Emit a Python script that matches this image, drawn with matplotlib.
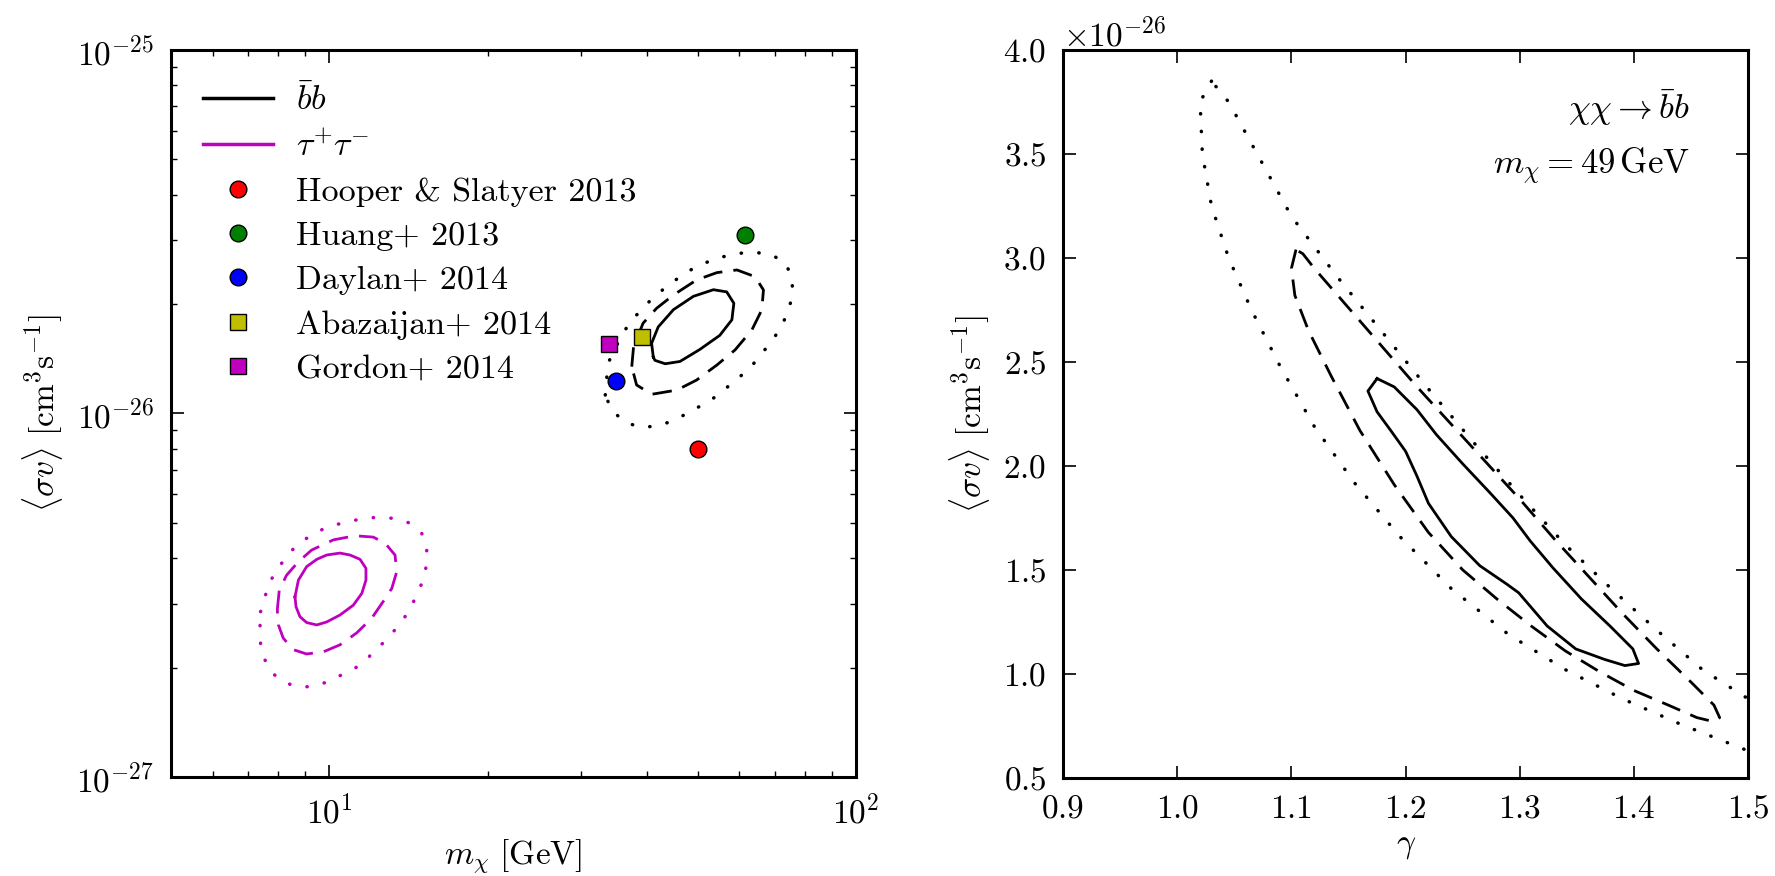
import numpy as np
import matplotlib
matplotlib.use("Agg")
import matplotlib.pyplot as plt
from matplotlib.ticker import NullFormatter, LogLocator

plt.rcParams['font.family'] = 'serif'
plt.rcParams['font.serif'] = ['cmr10', 'DejaVu Serif']
plt.rcParams['mathtext.fontset'] = 'cm'
plt.rcParams['axes.formatter.use_mathtext'] = True
plt.rcParams['font.size'] = 24

# ---- left panel: contours in (m_chi [GeV], <sigma v> [1e-26 cm^3/s]) ----
bb_solid_m = [41.2, 40.9, 42.1, 45.0, 49.1, 53.6, 56.8, 58.6, 58.1, 55.1, 50.5, 46.3, 43.4, 41.5]
bb_solid_s = [1.43, 1.56, 1.73, 1.93, 2.10, 2.19, 2.16, 2.01, 1.81, 1.64, 1.50, 1.39, 1.37, 1.40]

bb_dash_m = [37.5, 37.8, 39.4, 41.8, 45.0, 49.8, 54.4, 59.4, 64.3, 66.7, 66.2, 63.4, 58.9, 54.4,
             49.8, 45.7, 40.9, 38.3]
bb_dash_s = [1.345, 1.527, 1.771, 1.947, 2.118, 2.330, 2.440, 2.482, 2.378, 2.186, 1.926, 1.697,
             1.495, 1.359, 1.236, 1.160, 1.129, 1.198]

bb_dot_m = [33.4, 33.8, 35.9, 37.5, 39.4, 41.2, 43.7, 46.3, 49.1, 52.4, 56.0, 60.2, 64.3, 69.2,
            73.3, 75.5, 75.8, 74.6, 72.5, 69.8, 66.9, 63.8, 60.7, 57.6, 54.4, 51.3, 48.2, 45.3,
            42.3, 39.4, 36.7, 34.4]
bb_dot_s = [1.124, 1.374, 1.644, 1.808, 1.947, 2.088, 2.233, 2.378, 2.508, 2.616, 2.700, 2.759,
            2.776, 2.729, 2.600, 2.378, 2.141, 1.942, 1.760, 1.610, 1.489, 1.368, 1.276, 1.198,
            1.117, 1.060, 1.008, 0.960, 0.926, 0.916, 0.940, 1.016]

tau_solid_m = [8.60, 8.73, 9.05, 9.46, 9.88, 10.47, 10.94, 11.43, 11.73, 11.73, 11.52, 11.10,
               10.47, 9.88, 9.46, 9.05, 8.79, 8.64]
tau_solid_s = [0.313, 0.348, 0.379, 0.397, 0.408, 0.413, 0.408, 0.397, 0.375, 0.348, 0.320,
               0.297, 0.279, 0.267, 0.262, 0.266, 0.276, 0.294]

tau_dash_m = [7.96, 8.03, 8.29, 8.73, 9.25, 10.17, 11.18, 12.11, 12.75, 13.32, 13.42, 13.13,
              12.65, 12.02, 11.26, 10.47, 9.74, 9.05, 8.54, 8.17, 8.00]
tau_dash_s = [0.288, 0.327, 0.359, 0.391, 0.421, 0.449, 0.461, 0.457, 0.440, 0.408, 0.367,
              0.330, 0.304, 0.273, 0.249, 0.231, 0.221, 0.218, 0.224, 0.241, 0.262]

tau_dot_m = [7.40, 7.54, 7.73, 8.03, 8.35, 8.79, 9.35, 9.95, 10.66, 11.43, 12.25, 13.18, 14.11,
             14.97, 15.30, 15.30, 15.07, 14.64, 14.22, 13.67, 13.07, 12.43, 11.80, 11.18, 10.47,
             9.84, 9.18, 8.54, 8.03, 7.80, 7.54, 7.40, 7.38]
tau_dot_s = [0.285, 0.313, 0.347, 0.379, 0.411, 0.441, 0.468, 0.488, 0.501, 0.512, 0.518, 0.515,
             0.501, 0.468, 0.426, 0.386, 0.348, 0.317, 0.289, 0.266, 0.246, 0.228, 0.212, 0.199,
             0.190, 0.182, 0.177, 0.178, 0.186, 0.193, 0.210, 0.232, 0.257]

# literature points
ref_names = ['Hooper & Slatyer 2013', 'Huang+ 2013', 'Daylan+ 2014', 'Abazaijan+ 2014', 'Gordon+ 2014']
ref_m = [50.0, 61.6, 35.0, 39.3, 34.0]
ref_s = [0.80, 3.10, 1.23, 1.62, 1.55]
ref_marker = ['o', 'o', 'o', 's', 's']
ref_color = ['r', 'g', 'b', 'y', 'm']

# ---- right panel: contours in (gamma, <sigma v> [1e-26]) for m = 49 GeV ----
r_solid_g = [1.175, 1.190, 1.210, 1.227, 1.250, 1.274, 1.294, 1.309, 1.329, 1.354, 1.379, 1.399,
             1.404, 1.392, 1.374, 1.349, 1.324, 1.299, 1.289, 1.265, 1.240, 1.220, 1.210, 1.200,
             1.187, 1.175, 1.167]
r_solid_s = [2.42, 2.38, 2.27, 2.15, 2.01, 1.87, 1.75, 1.64, 1.51, 1.36, 1.23, 1.12, 1.05, 1.04,
             1.07, 1.12, 1.23, 1.39, 1.43, 1.52, 1.66, 1.82, 1.95, 2.07, 2.17, 2.26, 2.36]

r_dash_g = [1.104, 1.100, 1.103, 1.115, 1.135, 1.160, 1.190, 1.220, 1.250, 1.280, 1.310, 1.340,
            1.370, 1.400, 1.430, 1.455, 1.470, 1.475, 1.470, 1.450, 1.420, 1.390, 1.360, 1.330,
            1.300, 1.270, 1.240, 1.210, 1.180, 1.150, 1.120, 1.110]
r_dash_s = [3.04, 2.95, 2.82, 2.65, 2.43, 2.17, 1.91, 1.68, 1.50, 1.36, 1.23, 1.11, 1.01, 0.92,
            0.85, 0.79, 0.77, 0.79, 0.85, 0.96, 1.12, 1.29, 1.47, 1.65, 1.84, 2.02, 2.20, 2.38,
            2.57, 2.76, 2.95, 3.02]

r_dot_g = [1.030, 1.020, 1.022, 1.030, 1.045, 1.065, 1.090, 1.120, 1.155, 1.195, 1.240, 1.290,
           1.340, 1.390, 1.440, 1.500, 1.520, 1.520, 1.500, 1.460, 1.420, 1.380, 1.340, 1.300,
           1.260, 1.220, 1.180, 1.140, 1.100, 1.070, 1.045, 1.030]
r_dot_s = [3.85, 3.75, 3.50, 3.25, 3.00, 2.75, 2.48, 2.19, 1.92, 1.66, 1.41, 1.19, 1.02, 0.88,
           0.76, 0.63, 0.59, 0.82, 0.88, 1.02, 1.21, 1.41, 1.62, 1.86, 2.11, 2.37, 2.64, 2.91,
           3.20, 3.50, 3.75, 3.85]

E26 = 1e-26


def closed(x, y):
    x = np.append(x, x[0])
    y = np.append(y, y[0])
    return x, y


dash = (0, (7, 4))
dot = (0, (0.1, 5))

fig = plt.figure(figsize=(17.75, 8.76), dpi=100)
ax1 = fig.add_axes([0.0963, 0.113, 0.386, 0.830])
ax2 = fig.add_axes([0.5989, 0.112, 0.386, 0.831])

# left panel
for xs, ys, col in [(bb_solid_m, bb_solid_s, 'k'), (tau_solid_m, tau_solid_s, 'm')]:
    x, y = closed(np.array(xs), np.array(ys) * E26)
    ax1.plot(x, y, color=col, lw=2)
for xs, ys, col in [(bb_dash_m, bb_dash_s, 'k'), (tau_dash_m, tau_dash_s, 'm')]:
    x, y = closed(np.array(xs), np.array(ys) * E26)
    ax1.plot(x, y, color=col, lw=2, linestyle=dash)
for xs, ys, col in [(bb_dot_m, bb_dot_s, 'k'), (tau_dot_m, tau_dot_s, 'm')]:
    x, y = closed(np.array(xs), np.array(ys) * E26)
    ax1.plot(x, y, color=col, lw=2.5, linestyle=dot, dash_capstyle='round')

ax1.plot([], [], color='k', lw=2.5, label=r'$\bar{b}b$')
ax1.plot([], [], color='m', lw=2.5, label=r'$\tau^{+}\tau^{-}$')
for name, m, s, mk, c in zip(ref_names, ref_m, ref_s, ref_marker, ref_color):
    ax1.plot(m, s * E26, linestyle='none', marker=mk, color=c, ms=12, mec='k', mew=1,
             label=name)

ax1.set_xscale('log')
ax1.set_yscale('log')
ax1.set_xlim(5, 100)
ax1.set_ylim(1e-27, 1e-25)
ax1.set_xticks([10, 100])
ax1.set_yticks([1e-27, 1e-26, 1e-25])
ax1.xaxis.set_minor_locator(LogLocator(base=10, subs=np.arange(2, 10)))
ax1.yaxis.set_minor_locator(LogLocator(base=10, subs=np.arange(2, 10)))
ax1.xaxis.set_minor_formatter(NullFormatter())
ax1.yaxis.set_minor_formatter(NullFormatter())
ax1.set_xlabel(r'$m_\chi\ [\mathrm{GeV}]$', labelpad=6)
ax1.set_ylabel(r'$\langle\sigma v\rangle\ [\mathrm{cm}^3\mathrm{s}^{-1}]$', labelpad=8)
ax1.legend(loc='upper left', frameon=False, numpoints=1, handlelength=2.05,
           handletextpad=0.68, labelspacing=0.43, borderaxespad=0.55, fontsize=24.5)

# right panel
x, y = closed(np.array(r_solid_g), np.array(r_solid_s) * E26)
ax2.plot(x, y, color='k', lw=2)
x, y = closed(np.array(r_dash_g), np.array(r_dash_s) * E26)
ax2.plot(x, y, color='k', lw=2, linestyle=dash)
x, y = closed(np.array(r_dot_g), np.array(r_dot_s) * E26)
ax2.plot(x, y, color='k', lw=2.5, linestyle=dot, dash_capstyle='round')

ax2.set_xlim(0.9, 1.5)
ax2.set_ylim(0.5e-26, 4.0e-26)
ax2.set_xticks(np.arange(0.9, 1.51, 0.1))
ax2.set_yticks(np.arange(0.5, 4.01, 0.5) * E26)
ax2.set_xlabel(r'$\gamma$', labelpad=6)
ax2.set_ylabel(r'$\langle\sigma v\rangle\ [\mathrm{cm}^3\mathrm{s}^{-1}]$', labelpad=8)
ax2.text(0.915, 0.92, r'$\chi\chi\rightarrow\bar{b}b$', transform=ax2.transAxes,
         ha='right', va='center', fontsize=25)
ax2.text(0.915, 0.84, r'$m_\chi=49\,\mathrm{GeV}$', transform=ax2.transAxes,
         ha='right', va='center', fontsize=25)

for ax in (ax1, ax2):
    ax.tick_params(which='both', direction='in', top=True, right=True)
    ax.tick_params(which='major', length=9, width=1.2, pad=12)
    ax.tick_params(which='minor', length=4.5, width=1.0)
    for sp in ax.spines.values():
        sp.set_linewidth(2.2)

fig.savefig('out.png', dpi=100)
